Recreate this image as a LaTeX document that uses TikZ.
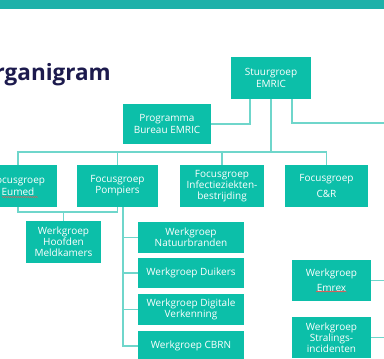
\documentclass[tikz,border=0pt]{standalone}
\usepackage{fontspec}
\setmainfont{Open Sans}
\usetikzlibrary{decorations.pathmorphing}
\definecolor{emricteal}{HTML}{0CBFA9}
\definecolor{emricbar}{HTML}{1EB1A9}
\definecolor{emricline}{HTML}{6FD6CB}
\definecolor{emricnavy}{HTML}{1C1A4D}

\begin{document}
\begin{tikzpicture}[x=1pt,y=-1pt,
    box/.style={fill=emricteal,text=white,align=center,inner sep=0pt,font=\fontsize{10}{11.2}\selectfont},
    boxsize/.style 2 args={minimum width=#1pt,minimum height=#2pt},
    link/.style={draw=emricline,line width=1.2pt}]
        \useasboundingbox (0,0) rectangle (384,359);
        \fill[emricbar] (0,0) rectangle (384,9); % band along the top
        \node[anchor=base east,inner sep=0pt,text=emricnavy,font=\fontsize{22.5}{22.5}\selectfont\bfseries] (title) at (111,80) {Organigram};
        % top level
        \node[box,boxsize={80}{42}] (stuur) at (271,78) {Stuurgroep\\EMRIC};
        \node[box,boxsize={88}{40}] (prog) at (167,124) {Programma\\Bureau EMRIC};
        % focus groups
        \node[box,boxsize={78}{42}] (eumed) at (18,186) {Focusgroep\\Eumed};
        \node[box,boxsize={81}{42}] (pomp) at (117.5,186) {Focusgroep\\Pompiers};
        \node[box,boxsize={84}{42}] (infect) at (222,186) {Focusgroep\\Infectieziekten-\\bestrijding};
        \node[box,boxsize={83}{42}] (cr) at (326.5,186) {Focusgroep\\[4pt]C\&R};
        % working groups
        \node[box,boxsize={75}{42}] (hoofd) at (63.5,242) {Werkgroep\\Hoofden\\Meldkamers};
        \node[box,boxsize={106}{31}] (natuur) at (191,237.5) {Werkgroep\\Natuurbranden};
        \node[box,boxsize={106}{30}] (duik) at (191,273) {Werkgroep Duikers};
        \node[box,boxsize={106}{31}] (digi) at (191,309.5) {Werkgroep Digitale\\Verkenning};
        \node[box,boxsize={106}{31}] (cbrn) at (191,346) {Werkgroep CBRN};
        \node[box,boxsize={79}{41}] (emrex) at (331.5,280.5) {Werkgroep\\[4pt]Emrex};
        \node[box,boxsize={79}{41}] (stral) at (331.5,337.5) {Werkgroep\\Stralings-\\incidenten};
        % connectors
        \coordinate (rightend) at (384,123);
        \coordinate (bus) at (271,152);
        \coordinate (hbus) at (63,212);
        \coordinate (pw) at ([xshift=5.5pt]pomp.south);
        \draw[link] (prog.east) -| ([xshift=-21pt]stuur.south);
        \draw[link] ([xshift=21pt]stuur.south) |- (rightend);
        \draw[link] (stuur.south) -- (bus);
        \draw[link] (eumed.north) |- (bus) -| (cr.north);
        \draw[link] (pomp.north) -- (pomp.north |- bus);
        \draw[link] (infect.north) -- (infect.north |- bus);
        \draw[link] (eumed.south) |- (hbus) -| (pomp.south);
        \draw[link] (hoofd.north) -- (hoofd.north |- hbus);
        \draw[link] (pw) |- (natuur.west);
        \draw[link] (pw) |- (duik.west);
        \draw[link] (pw) |- (digi.west);
        \draw[link] (pw) |- (cbrn.west);
        \draw[link] (emrex.east) -- (emrex.east -| rightend);
        \draw[link] (stral.east) -- (stral.east -| rightend);
        % spell check marks
        \draw[red!70,line width=0.4pt,decorate,decoration={snake,amplitude=0.5pt,segment length=2pt}] (2,197) -- (37,197)
        (316,292) -- (347,292);
\end{tikzpicture}
\end{document}
